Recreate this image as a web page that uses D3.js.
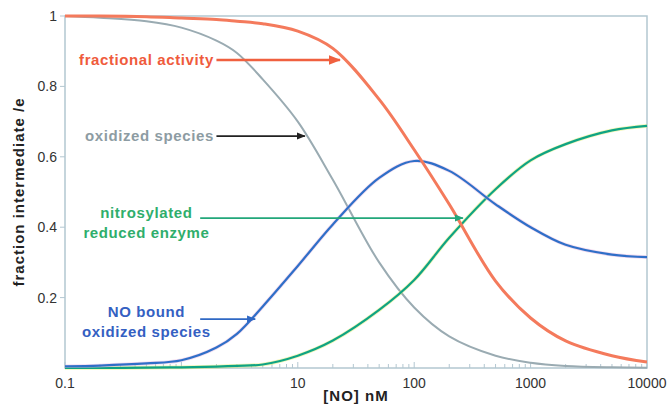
<!DOCTYPE html>
<html>
<head>
<meta charset="utf-8">
<script src="https://cdn.jsdelivr.net/npm/d3@7"></script>
<style>
  body { margin: 0; background: #fff; }
  svg { font-family: "Liberation Sans", Arial, sans-serif; }
</style>
</head>
<body>
<div id="chart"></div>
<script>
// [NO] in nM, sampled along the log axis
var concentrations = [0.1, 0.2, 0.5, 1, 2, 3, 5, 10, 20, 50, 100, 200, 500, 1000, 2000, 5000, 10000];

var fractionalActivity = [1.0, 1.0, 0.998, 0.994, 0.99, 0.985, 0.978, 0.957, 0.908, 0.763, 0.62, 0.465, 0.247, 0.142, 0.077, 0.035, 0.017];
var oxidizedSpecies    = [1.0, 0.995, 0.985, 0.967, 0.93, 0.895, 0.82, 0.70, 0.535, 0.30, 0.172, 0.09, 0.035, 0.015, 0.006, 0.002, 0.001];
var noBoundOxidized    = [0.005, 0.007, 0.013, 0.022, 0.058, 0.097, 0.175, 0.29, 0.408, 0.54, 0.588, 0.56, 0.465, 0.40, 0.35, 0.322, 0.315];
var nitrosylated       = [0.0, 0.0, 0.001, 0.002, 0.004, 0.006, 0.01, 0.035, 0.078, 0.165, 0.25, 0.37, 0.508, 0.59, 0.636, 0.675, 0.688];

var yTicks = [0.2, 0.4, 0.6, 0.8, 1];
var xTickLabels = [0.1, 10, 100, 1000, 10000];

var width = 671,
    height = 407,
    margin = {left: 65, right: 24, top: 16, bottom: 39};

var x = d3.scaleLog()
  .domain([0.1, 10000])
  .range([margin.left, width - margin.right]);

var y = d3.scaleLinear()
  .domain([0, 1])
  .range([height - margin.bottom, margin.top]);

var frameColor = "#b3c7d1";

var svg = d3.select('#chart').append('svg')
  .attr('width', width)
  .attr('height', height);

// arrow heads
var defs = svg.append('defs');
[['orange', '#f0603f'], ['black', '#222'], ['green', '#22a77a'], ['blue', '#2f68c4']].forEach(function(m) {
  defs.append('marker')
    .attr('id', 'arrow-' + m[0])
    .attr('viewBox', '0 0 10 10')
    .attr('refX', 9).attr('refY', 5)
    .attr('markerWidth', 5).attr('markerHeight', 5)
    .attr('orient', 'auto')
    .append('path')
    .attr('d', 'M0,1 L10,5 L0,9 z')
    .attr('fill', m[1]);
});

// frame
svg.append('rect')
  .attr('x', x.range()[0])
  .attr('y', y.range()[1])
  .attr('width', x.range()[1] - x.range()[0])
  .attr('height', y.range()[0] - y.range()[1])
  .attr('fill', 'none')
  .attr('stroke', frameColor)
  .attr('stroke-width', 1.5);

// y ticks + labels
var yAxis = svg.append('g');
yAxis.selectAll('line')
  .data(yTicks)
  .enter().append('line')
  .attr('x1', x.range()[0] - 5)
  .attr('x2', x.range()[0])
  .attr('y1', function(d) { return y(d); })
  .attr('y2', function(d) { return y(d); })
  .attr('stroke', frameColor);

yAxis.selectAll('text')
  .data(yTicks)
  .enter().append('text')
  .attr('x', x.range()[0] - 8)
  .attr('y', function(d) { return y(d); })
  .attr('dy', '0.35em')
  .style('text-anchor', 'end')
  .style('font-size', '14px')
  .style('fill', '#333')
  .text(function(d) { return d; });

// x ticks (log minor ticks pointing inward)
var xAxis = svg.append('g');
xAxis.selectAll('line')
  .data(x.ticks())
  .enter().append('line')
  .attr('x1', function(d) { return x(d); })
  .attr('x2', function(d) { return x(d); })
  .attr('y1', y.range()[0])
  .attr('y2', function(d) {
    var major = Math.abs(Math.log10(d) - Math.round(Math.log10(d))) < 1e-9;
    return y.range()[0] - (major ? 6 : 4);
  })
  .attr('stroke', frameColor);

xAxis.selectAll('text')
  .data(xTickLabels)
  .enter().append('text')
  .attr('x', function(d) { return x(d); })
  .attr('y', y.range()[0] + 20)
  .style('text-anchor', 'middle')
  .style('font-size', '14px')
  .style('fill', '#333')
  .text(function(d) { return d; });

// axis titles
svg.append('text')
  .attr('transform', 'translate(24,' + ((y.range()[0] + y.range()[1]) / 2) + ') rotate(-90)')
  .style('text-anchor', 'middle')
  .style('font-size', '15px')
  .style('letter-spacing', '1px')
  .style('font-weight', 'bold')
  .style('fill', '#222')
  .text('fraction intermediate /e');

svg.append('text')
  .attr('x', 356)
  .attr('y', 401)
  .style('text-anchor', 'middle')
  .style('font-size', '15px')
  .style('letter-spacing', '1px')
  .style('font-weight', 'bold')
  .style('fill', '#222')
  .text('[NO] nM');

// curves
var line = d3.line()
  .x(function(d) { return x(d[0]); })
  .y(function(d) { return y(d[1]); })
  .curve(d3.curveCatmullRom.alpha(0.5));

function pairs(values) {
  return concentrations.map(function(c, i) { return [c, values[i]]; });
}

var series = [
  {values: oxidizedSpecies, color: '#9aabb2', width: 2},
  {values: nitrosylated, color: '#0fa384', width: 2.2, halo: '#e6ee6a'},
  {values: noBoundOxidized, color: '#2f6fc8', width: 2.2, halo: '#e8b8e0'},
  {values: fractionalActivity, color: '#f47a5c', width: 3}
];

series.forEach(function(s) {
  if (s.halo) {
    svg.append('path')
      .attr('d', line(pairs(s.values)))
      .attr('fill', 'none')
      .attr('stroke', s.halo)
      .attr('stroke-opacity', 0.5)
      .attr('stroke-width', s.width + 1.5);
  }
  svg.append('path')
    .attr('d', line(pairs(s.values)))
    .attr('fill', 'none')
    .attr('stroke', s.color)
    .attr('stroke-width', s.width);
});

// annotations (positions in data units)
var labels = [
  {lines: ['fractional activity'], at: [1.9, 0.875], anchor: 'end', color: '#ef5b3c',
   arrow: [[2.0, 0.875], [23, 0.875]], stroke: '#f0603f', marker: 'orange', sw: 2.5},
  {lines: ['oxidized species'], at: [1.9, 0.659], anchor: 'end', color: '#8d9ca3',
   arrow: [[2.0, 0.659], [11.5, 0.659]], stroke: '#222', marker: 'black', sw: 1.8},
  {lines: ['nitrosylated', 'reduced enzyme'], at: [0.5, 0.44], anchor: 'middle', color: '#2fae6c',
   arrow: [[1.45, 0.426], [262, 0.426]], stroke: '#22a77a', marker: 'green', sw: 1.8},
  {lines: ['NO bound', 'oxidized species'], at: [0.5, 0.16], anchor: 'middle', color: '#3460c2',
   arrow: [[1.45, 0.139], [4.3, 0.139]], stroke: '#2f68c4', marker: 'blue', sw: 1.8}
];

labels.forEach(function(l) {
  var t = svg.append('text')
    .attr('x', x(l.at[0]))
    .attr('y', y(l.at[1]))
    .style('text-anchor', l.anchor)
    .style('font-size', '15px')
    .style('letter-spacing', '0.6px')
    .style('font-weight', 'bold')
    .style('fill', l.color);
  l.lines.forEach(function(s, i) {
    t.append('tspan')
      .attr('x', x(l.at[0]))
      .attr('dy', i === 0 ? '0.35em' : '1.33em')
      .text(s);
  });
  svg.append('line')
    .attr('x1', x(l.arrow[0][0])).attr('y1', y(l.arrow[0][1]))
    .attr('x2', x(l.arrow[1][0])).attr('y2', y(l.arrow[1][1]))
    .attr('stroke', l.stroke)
    .attr('stroke-width', l.sw)
    .attr('marker-end', 'url(#arrow-' + l.marker + ')');
});
</script>
</body>
</html>
